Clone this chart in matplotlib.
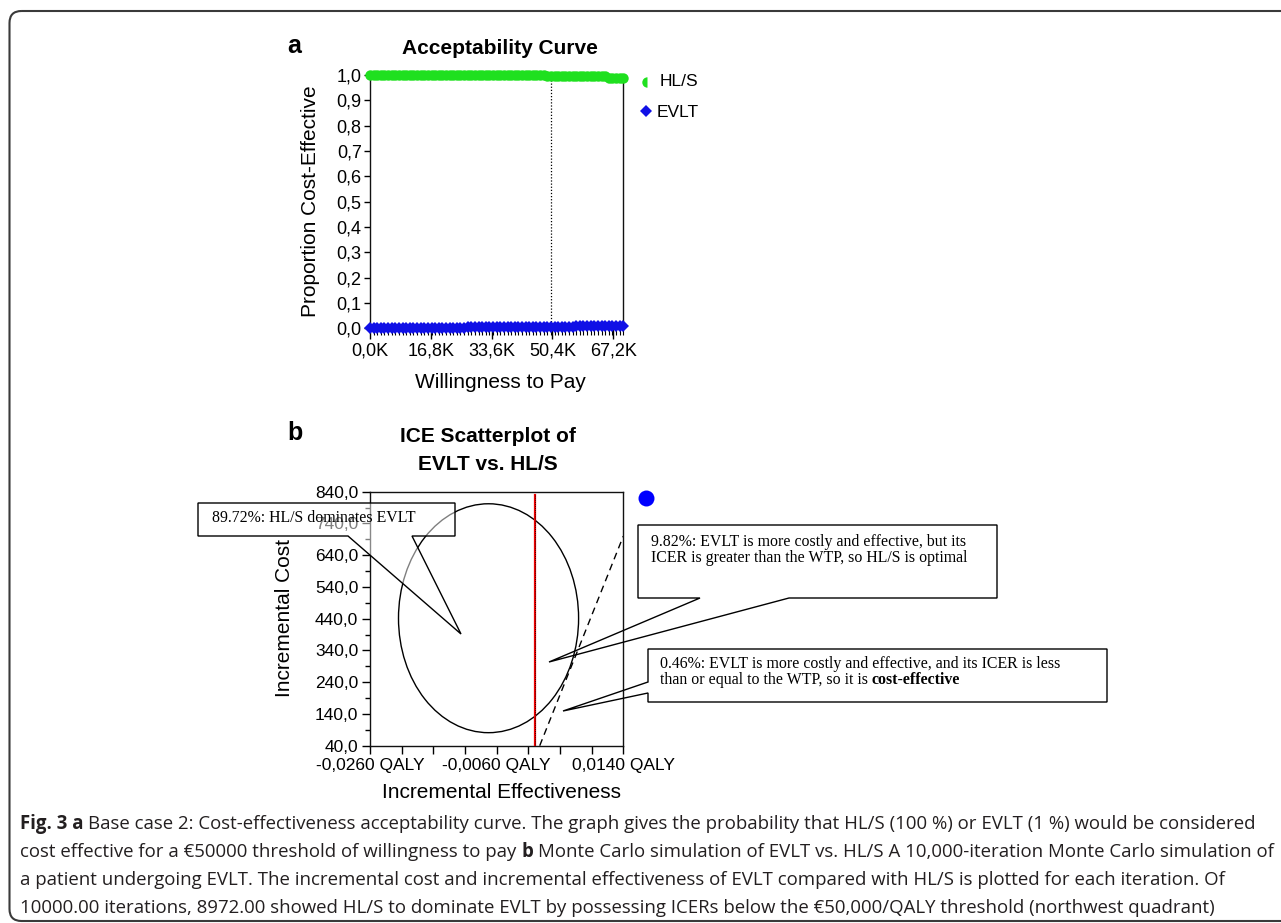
import matplotlib
matplotlib.use('Agg')
import matplotlib.pyplot as plt
from matplotlib.patches import Polygon, FancyBboxPatch, Ellipse
from matplotlib.lines import Line2D
from matplotlib.transforms import Affine2D
from matplotlib import font_manager as fm

W, H, DPI = 1281, 923, 100

# ---------------- data ----------------
# panel a: acceptability curve
wtp_grid = list(range(0, 70001, 1000))
hls_prop = [1.0] * 49 + [0.995] * 17 + [0.99] * 5
evlt_prop = [0.0] * 27 + [0.005] * 30 + [0.01] * 14
wtp_threshold = 50000
a_xlim = (0, 70000)
a_xticks = [0, 16800, 33600, 50400, 67200]
a_yticks = [0.0, 0.1, 0.2, 0.3, 0.4, 0.5, 0.6, 0.7, 0.8, 0.9, 1.0]

# panel b: ICE scatterplot
b_xlim = (-0.026, 0.014)
b_ylim = (40, 840)
b_xticks = [-0.026, -0.021, -0.016, -0.011, -0.006, -0.001, 0.004, 0.009, 0.014]
b_xlabeled = [-0.026, -0.006, 0.014]
b_yticks = [40, 140, 240, 340, 440, 540, 640, 740, 840]
b_yminor = [90, 190, 290, 390, 490, 590, 690, 790]
ellipse_center = (-0.00728, 441.5)
ellipse_half_axes = (0.01422, 360.5)
zero_line_top = 830

callout_texts = {
    "dom": ["89.72%: HL/S dominates EVLT"],
    "ne_high": ["9.82%: EVLT is more costly and effective, but its",
                "ICER is greater than the WTP, so HL/S is optimal"],
}
ce_line1 = "0.46%: EVLT is more costly and effective, and its ICER is less"
ce_line2 = ("than or equal to the WTP, so it is ", "cost-effective")

caption_lines = [
    [("Fig. 3 a", "bold"), ("Base case 2: Cost-effectiveness acceptability curve. The graph gives the probability that HL/S (100 %) or EVLT (1 %) would be considered", "normal")],
    [("cost effective for a \u20ac50000 threshold of willingness to pay", "normal"), ("b", "bold"), ("Monte Carlo simulation of EVLT vs. HL/S A 10,000-iteration Monte Carlo simulation of", "normal")],
    [("a patient undergoing EVLT. The incremental cost and incremental effectiveness of EVLT compared with HL/S is plotted for each iteration. Of", "normal")],
    [("10000.00 iterations, 8972.00 showed HL/S to dominate EVLT by possessing ICERs below the \u20ac50,000/QALY threshold (northwest quadrant)", "normal")],
]

GREEN = '#1fe01f'
BLUE = '#1010e6'

plt.rcParams['font.family'] = ['Liberation Sans', 'DejaVu Sans']

fig = plt.figure(figsize=(W / DPI, H / DPI), dpi=DPI)
fig.patch.set_facecolor('white')
pxT = Affine2D().scale(1.0 / W, -1.0 / H).translate(0, 1) + fig.transFigure


def fax(l, t, r, b):
    return fig.add_axes([l / W, 1 - b / H, (r - l) / W, (b - t) / H])


def comma(s):
    return s.replace('.', ',')

# ---------------- panel a ----------------
axa = fax(370, 75, 623.3, 328.3)
axa.set_xlim(*a_xlim)
axa.set_ylim(0, 1)
for sp in axa.spines.values():
    sp.set_linewidth(1.0)
    sp.set_color('#111111')
axa.plot(wtp_grid, hls_prop, linestyle='none', marker='o', markersize=7.5,
         color=GREEN, markeredgewidth=0, clip_on=False, zorder=4)
axa.plot(wtp_grid, evlt_prop, linestyle='none', marker='D', markersize=6,
         color=BLUE, markeredgewidth=0, clip_on=False, zorder=4)
axa.axvline(wtp_threshold, color='black', linestyle=(0, (1, 1.5)), linewidth=0.9, zorder=1)
axa.set_xticks(a_xticks)
axa.set_xticklabels([comma(f"{v / 1000:.1f}K") for v in a_xticks])
axa.set_xticks(wtp_grid, minor=True)
axa.set_yticks(a_yticks)
axa.set_yticklabels([comma(f"{v:.1f}") for v in a_yticks])
axa.tick_params(axis='x', which='major', length=8, width=1, pad=2, labelsize=13)
axa.tick_params(axis='x', which='minor', length=5, width=0.8)
axa.tick_params(axis='y', which='major', length=4.5, width=1, pad=1.5, labelsize=13)

fig.text(500, 54, "Acceptability Curve", transform=pxT, ha='center', va='baseline',
         fontsize=15, fontweight='bold')
fig.text(294, 53, "a", transform=pxT, ha='center', va='baseline', fontsize=18, fontweight='bold')
fig.text(500, 388, "Willingness to Pay", transform=pxT, ha='center', va='baseline', fontsize=15)
fig.text(311, 201, "Proportion Cost-Effective", transform=pxT, ha='center', va='center',
         rotation=90, fontsize=15)
# legend
fig.add_artist(Line2D([647], [82], transform=pxT, marker='o', markersize=7.5, fillstyle='left',
                      markerfacecolor=GREEN, markerfacecoloralt='none', markeredgewidth=0,
                      linestyle='none'))
fig.text(660, 86, "HL/S", transform=pxT, ha='left', va='baseline', fontsize=12.5)
fig.add_artist(Line2D([646], [111], transform=pxT, marker='D', markersize=6, color=BLUE,
                      markeredgewidth=0, linestyle='none'))
fig.text(657, 117, "EVLT", transform=pxT, ha='left', va='baseline', fontsize=12.5)

# ---------------- panel b ----------------
axb = fax(370, 491.7, 623.3, 745.7)
axb.set_xlim(*b_xlim)
axb.set_ylim(*b_ylim)
for sp in axb.spines.values():
    sp.set_linewidth(1.0)
    sp.set_color('#111111')
axb.add_patch(Ellipse(ellipse_center, 2 * ellipse_half_axes[0], 2 * ellipse_half_axes[1],
                      fill=False, edgecolor='black', linewidth=1.0))
axb.plot([0, 0], [b_ylim[0], zero_line_top], color='#ee0000', linewidth=1.6, zorder=3)
axb.plot([0, 0], [b_ylim[0], zero_line_top], color='black', linewidth=0.6,
         linestyle=(0, (1, 1.5)), zorder=3)
wx = [b_ylim[0] / wtp_threshold, b_xlim[1]]
axb.plot(wx, [wtp_threshold * v for v in wx], color='black', linewidth=1.0,
         linestyle=(0, (5, 3.5)), zorder=3)
axb.set_xticks(b_xticks)
axb.set_xticklabels([comma(f"{v:.4f} QALY") if v in b_xlabeled else "" for v in b_xticks])
axb.set_yticks(b_yticks)
axb.set_yticklabels([comma(f"{v:.1f}") for v in b_yticks])
axb.set_yticks(b_yminor, minor=True)
axb.tick_params(axis='x', which='major', length=6, width=1, pad=3, labelsize=12.5)
axb.tick_params(axis='y', which='major', length=6, width=1, pad=2.5, labelsize=12.5)
axb.tick_params(axis='y', which='minor', length=3.5, width=1)

fig.text(488, 442, "ICE Scatterplot of", transform=pxT, ha='center', va='baseline',
         fontsize=15, fontweight='bold')
fig.text(488, 470, "EVLT vs. HL/S", transform=pxT, ha='center', va='baseline',
         fontsize=15, fontweight='bold')
fig.text(295, 440, "b", transform=pxT, ha='center', va='baseline', fontsize=18, fontweight='bold')
fig.text(502, 798, "Incremental Effectiveness", transform=pxT, ha='center', va='baseline', fontsize=15)
fig.text(285, 618, "Incremental Cost", transform=pxT, ha='center', va='center',
         rotation=90, fontsize=15)
fig.add_artist(Line2D([646], [498], transform=pxT, marker='o', markersize=11.5,
                      color='#0000ff', markeredgewidth=0, linestyle='none'))

# callouts
SERIF = ['Liberation Serif', 'DejaVu Serif']
c1 = [(198, 503), (455, 503), (455, 536), (412, 536), (461, 634), (348, 536), (198, 536)]
fig.add_artist(Polygon(c1, closed=True, transform=pxT, facecolor=(1, 1, 1, 0.5),
                       edgecolor='black', linewidth=1.0, zorder=5))
fig.text(212, 522, callout_texts["dom"][0], transform=pxT, ha='left', va='baseline',
         fontsize=11.4, family=SERIF, zorder=6)

c2 = [(638, 525), (997, 525), (997, 598), (789, 598), (549, 662), (700, 598), (638, 598)]
fig.add_artist(Polygon(c2, closed=True, transform=pxT, facecolor='none',
                       edgecolor='black', linewidth=1.0, zorder=5))
for i, line in enumerate(callout_texts["ne_high"]):
    fig.text(651, 546 + 16.5 * i, line, transform=pxT, ha='left', va='baseline',
             fontsize=11.4, family=SERIF, zorder=6)

c3 = [(648, 649), (1107, 649), (1107, 702), (648, 702), (648, 693), (563, 711), (648, 682)]
fig.add_artist(Polygon(c3, closed=True, transform=pxT, facecolor='none',
                       edgecolor='black', linewidth=1.0, zorder=5))
fig.text(660, 668, ce_line1, transform=pxT, ha='left', va='baseline',
         fontsize=11.4, family=SERIF, zorder=6)
t = fig.text(660, 684, ce_line2[0], transform=pxT, ha='left', va='baseline',
             fontsize=11.4, family=SERIF, zorder=6)
renderer = fig.canvas.get_renderer()


def width_of(s, **kw):
    tt = fig.text(0, 0, s, **kw)
    w = tt.get_window_extent(renderer).width
    tt.remove()
    return w

w_prefix = width_of(ce_line2[0].rstrip() + "|", fontsize=11.4, family=SERIF) - \
    width_of("|", fontsize=11.4, family=SERIF)
sp_serif = width_of("a a", fontsize=11.4, family=SERIF) - width_of("aa", fontsize=11.4, family=SERIF)
fig.text(660 + w_prefix + sp_serif, 684, ce_line2[1], transform=pxT, ha='left', va='baseline',
         fontsize=11.4, family=SERIF, fontweight='bold', zorder=6)

# ---------------- caption ----------------
cap_family = None
for cand in ['Liberation Sans Narrow', 'Open Sans', 'Noto Sans']:
    try:
        fm.findfont(fm.FontProperties(family=cand), fallback_to_default=False)
        cap_family = [cand, 'DejaVu Sans']
        break
    except Exception:
        continue
if cap_family is None:
    cap_family = ['DejaVu Sans']

CAP_COLOR = '#231f20'


def line_width(pieces, size):
    tot = 0
    spw = width_of("a a", fontsize=size, family=cap_family) - width_of("aa", fontsize=size, family=cap_family)
    for i, (s, wt) in enumerate(pieces):
        tot += width_of(s, fontsize=size, family=cap_family, fontweight=wt)
        if i < len(pieces) - 1:
            tot += spw
    return tot, spw

target = 1242
w0, _ = line_width(caption_lines[0], 16)
cap_size = min(16 * target / w0, 15.5)
baselines = [829, 857, 885, 913]
_, spw = line_width(caption_lines[0], cap_size)
for pieces, yb in zip(caption_lines, baselines):
    x = 20
    for i, (s, wt) in enumerate(pieces):
        fig.text(x, yb, s, transform=pxT, ha='left', va='baseline', fontsize=cap_size,
                 family=cap_family, fontweight=wt, color=CAP_COLOR)
        x += width_of(s, fontsize=cap_size, family=cap_family, fontweight=wt) + spw

# rounded border
fig.add_artist(FancyBboxPatch((9.5, 11), 1320, 910, boxstyle='round,pad=0,rounding_size=12',
                              transform=pxT, fill=False, linewidth=1.5, edgecolor='#3a3a3a',
                              clip_on=False))

fig.savefig('out.png', dpi=DPI)
